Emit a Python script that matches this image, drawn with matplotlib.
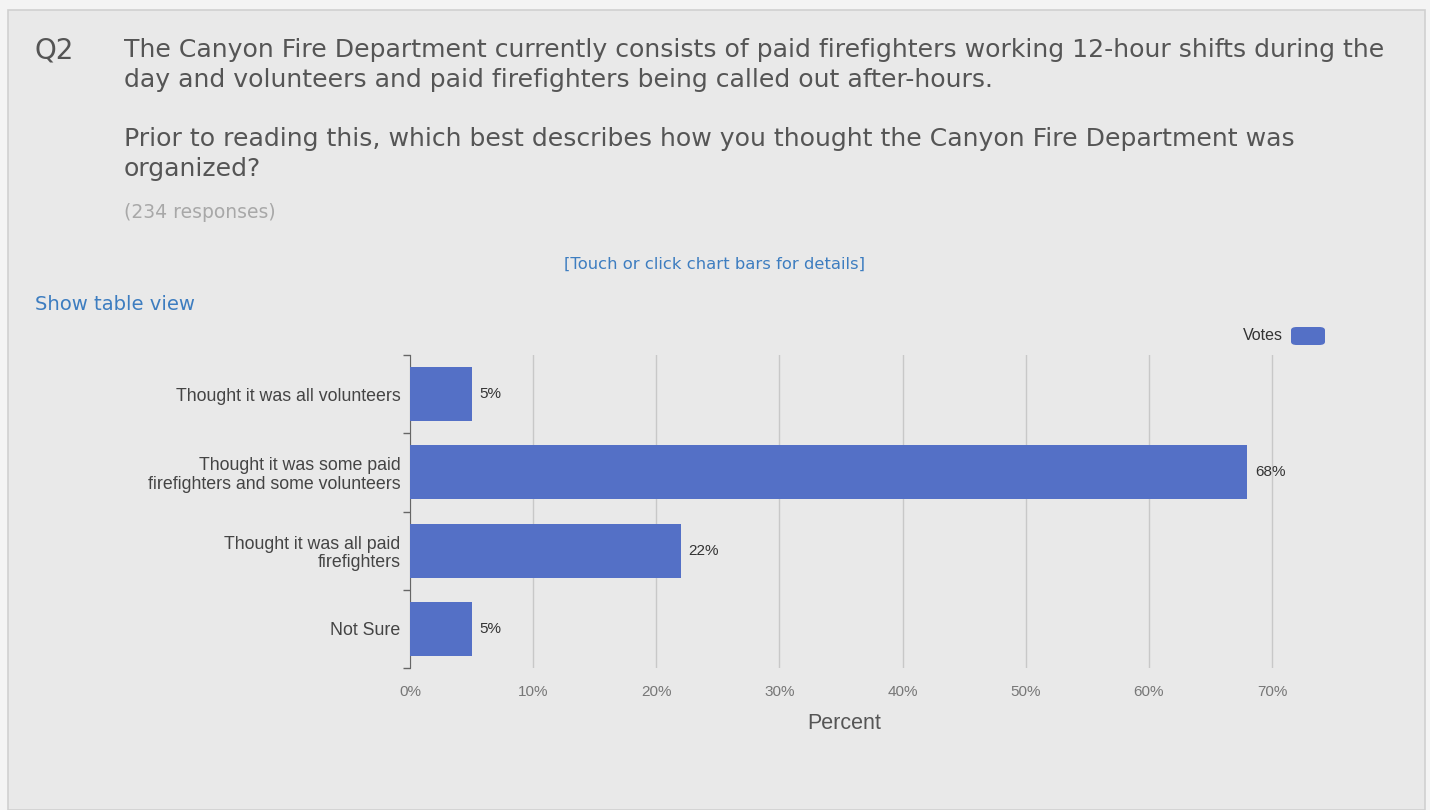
import matplotlib.pyplot as plt
from matplotlib.patches import FancyBboxPatch, Rectangle

categories = ['Thought it was all volunteers',
              'Thought it was some paid\nfirefighters and some volunteers',
              'Thought it was all paid\nfirefighters',
              'Not Sure']
percent = [5, 68, 22, 5]
xticks = [0, 10, 20, 30, 40, 50, 60, 70]

bar_color = '#5470c6'
link_color = '#3d7dc0'
W, H = 1430, 810

fig = plt.figure(figsize=(W / 100, H / 100), dpi=100)
fig.patch.set_facecolor('#f4f4f4')

# card background
fig.patches.append(Rectangle((8 / W, 0), 1417 / W, 800 / H, transform=fig.transFigure,
                             facecolor='#e9e9e9', edgecolor='#d0d0d0', lw=1.2, zorder=-5))


def fx(px):
    return px / W


def fy(py):
    return 1 - py / H


head = ['DejaVu Sans']
fs = 18.1
fig.text(fx(35), fy(50), 'Q2', fontsize=20, color='#555555', family=head, va='center')
fig.text(fx(124), fy(50), 'The Canyon Fire Department currently consists of paid firefighters working 12-hour shifts during the',
         fontsize=fs, color='#555555', family=head, va='center')
fig.text(fx(124), fy(80), 'day and volunteers and paid firefighters being called out after-hours.',
         fontsize=fs, color='#555555', family=head, va='center')
fig.text(fx(124), fy(139), 'Prior to reading this, which best describes how you thought the Canyon Fire Department was',
         fontsize=fs, color='#555555', family=head, va='center')
fig.text(fx(124), fy(169), 'organized?', fontsize=fs, color='#555555', family=head, va='center')
fig.text(fx(124), fy(212), '(234 responses)', fontsize=13.5, color='#a8a8a8', family=head, va='center')
fig.text(fx(715), fy(264), '[Touch or click chart bars for details]', fontsize=11.8, color=link_color,
         family=head, va='center', ha='center')
fig.text(fx(35), fy(304), 'Show table view', fontsize=14.1, color=link_color, family=head, va='center')

# legend
fig.text(fx(1283), fy(336), 'Votes', fontsize=11.5, color='#333333', family='Liberation Sans',
         va='center', ha='right')
fig.patches.append(FancyBboxPatch((fx(1291), fy(345)), fx(34), 18 / H, transform=fig.transFigure,
                                  boxstyle='round,pad=0,rounding_size=0.004', facecolor=bar_color,
                                  edgecolor='none'))

xmax = 70.5
ax = fig.add_axes([fx(410), fy(668), fx(862 * xmax / 70), (668 - 355) / H])
ax.set_facecolor('none')
y = list(range(len(categories)))
ax.barh(y, percent, height=0.69, color=bar_color, zorder=3)
for yi, v in zip(y, percent):
    ax.text(v + 0.6, yi, f'{v}%', va='center', ha='left', fontsize=11, color='#333333',
            family='Liberation Sans')

ax.set_xlim(0, xmax)
ax.set_ylim(len(categories) - 0.5, -0.5)
ax.set_xticks(xticks)
ax.set_xticklabels([f'{t}%' for t in xticks], fontsize=11, color='#777777', family='Liberation Sans')
ax.set_yticks(y)
ax.set_yticklabels(categories, fontsize=12.8, color='#444444', family='Liberation Sans',
                   linespacing=1.1)
ax.tick_params(axis='y', length=0, pad=7)
ax.tick_params(axis='x', length=0, pad=12)
# category boundary ticks
ax.set_yticks([-0.5, 0.5, 1.5, 2.5, 3.5], minor=True)
ax.tick_params(axis='y', which='minor', length=5, color='#666666', width=1)
ax.grid(axis='x', color='#c8c8c8', lw=1, zorder=0)
for s in ['top', 'right', 'bottom']:
    ax.spines[s].set_visible(False)
ax.spines['left'].set_color('#666666')
ax.set_xlabel('Percent', fontsize=15.5, color='#555555', family='Liberation Sans', labelpad=10)

fig.savefig('out.png', dpi=100, facecolor=fig.get_facecolor())
